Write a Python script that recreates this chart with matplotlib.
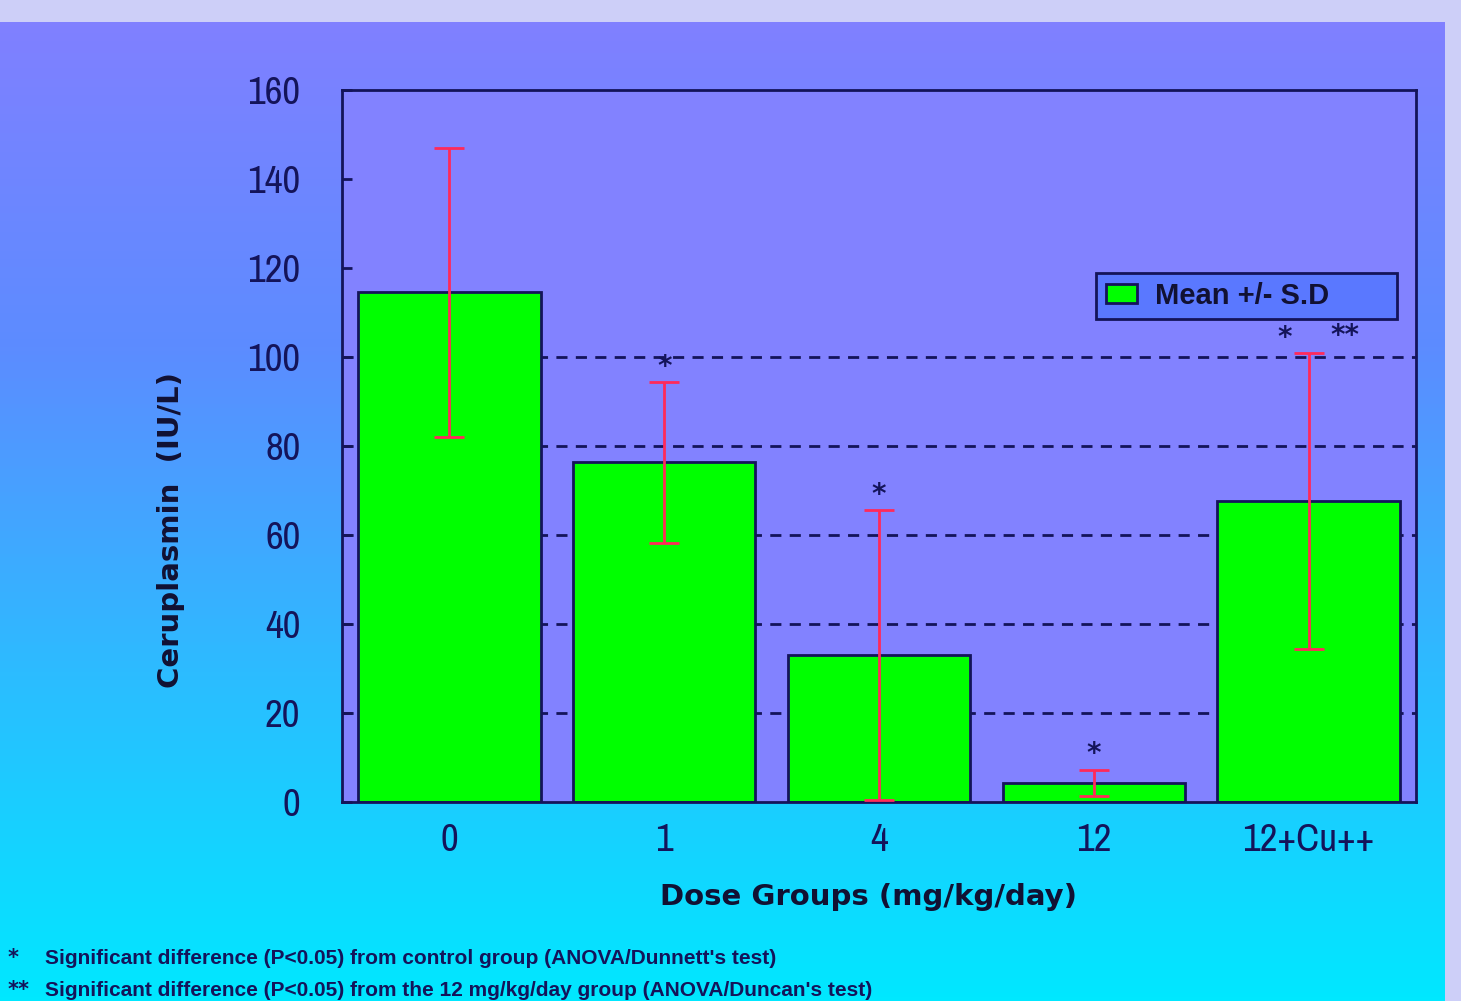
import numpy as np
import matplotlib
matplotlib.use("Agg")
import matplotlib.pyplot as plt
from matplotlib import font_manager as fm
from matplotlib.colors import LinearSegmentedColormap
from matplotlib.patches import Rectangle

categories = ["0", "1", "4", "12", "12+Cu++"]
means = [114.5, 76.3, 33.0, 4.3, 67.6]
sds = [32.5, 18.0, 32.6, 3.0, 33.2]
stars = ["*", "*", "*", "*"]
star_groups = [1, 2, 3, 4]
yticks = [0, 20, 40, 60, 80, 100, 120, 140, 160]
grid_levels = [20, 40, 60, 80, 100]
footnotes = [
    ("*", "Significant difference (P<0.05) from control group (ANOVA/Dunnett's test)"),
    ("**", "Significant difference (P<0.05) from the 12 mg/kg/day group (ANOVA/Duncan's test)"),
]

names = {f.name for f in fm.fontManager.ttflist}
narrow = "Archivo Narrow" if "Archivo Narrow" in names else "Liberation Sans"

navy = "#14145a"
W, H = 14.61, 10.01
fig = plt.figure(figsize=(W, H), dpi=100)
fig.patch.set_facecolor("#cdcff8")

# background gradient
bg = fig.add_axes([0, 0, 1445 / 1461, 1 - 22 / 1001], zorder=-10)
cmap = LinearSegmentedColormap.from_list("bg", ["#8080ff", "#5c8cff", "#2cbcff", "#00e8ff"])
grad = np.linspace(0, 1, 256).reshape(-1, 1)
bg.imshow(grad, aspect="auto", cmap=cmap, extent=[0, 1, 0, 1], origin="upper")
bg.set_axis_off()

ax = fig.add_axes([342 / 1461, 1 - 802 / 1001, (1416 - 342) / 1461, (802 - 90) / 1001])
ax.set_facecolor("#8282ff")
x = np.arange(len(categories))

for g in grid_levels:
    ax.axhline(g, color=navy, lw=2, ls=(0, (4, 3)), zorder=1)

bars = ax.bar(x, means, width=0.85, color="#00ff00", edgecolor=navy, linewidth=2,
              zorder=2, label="Mean +/- S.D")
ax.errorbar(x, means, yerr=sds, fmt="none", ecolor="#ff2a5a", elinewidth=2,
            capsize=11, capthick=2, zorder=3)

for gi, st in zip(star_groups, stars):
    dx = -0.11 if gi == len(categories) - 1 else 0.0
    ax.text(x[gi] + dx, means[gi] + sds[gi] + 3.5, st, ha="center", va="center",
            fontsize=20, fontweight="bold", color=navy, zorder=6)
ax.text(x[-1] + 0.17, means[-1] + sds[-1] + 4.0, "**", ha="center", va="center",
        fontsize=20, fontweight="bold", color=navy, zorder=6)

ax.set_xlim(-0.5, len(categories) - 0.5)
ax.set_ylim(0, 160)
ax.set_yticks(yticks)
ax.set_yticklabels([str(t) for t in yticks], fontsize=28, family=narrow, color=navy)
ax.set_xticks(x)
ax.set_xticklabels(categories, fontsize=28, family=narrow, color=navy)
ax.tick_params(axis="y", direction="in", length=7, width=2, color=navy, pad=30)
ax.tick_params(axis="x", length=0, pad=15)
for sp in ax.spines.values():
    sp.set_color(navy)
    sp.set_linewidth(2)

ax.set_ylabel("Ceruplasmin  (IU/L)", fontsize=21, fontweight="bold", color="#111133",
              family="DejaVu Sans")
ax.yaxis.set_label_coords(-0.146, 0.382)
ax.set_xlabel("Dose Groups (mg/kg/day)", fontsize=21, fontweight="bold", color="#111133",
              family="DejaVu Sans")
ax.xaxis.set_label_coords(0.490, -0.114)

# legend box
ax.add_patch(Rectangle(((1096 - 342) / 1074, (802 - 319) / 712), (1397 - 1096) / 1074,
                       46 / 712, transform=ax.transAxes, facecolor="#5a78ff",
                       edgecolor=navy, linewidth=2, zorder=5))
leg = ax.legend(loc="center left", bbox_to_anchor=((1106 - 342) / 1074, (802 - 296) / 712),
                borderaxespad=0, borderpad=0, frameon=False,
                prop={"family": "Liberation Sans", "weight": "bold", "size": 21},
                handlelength=1.07, handleheight=0.62, handletextpad=0.62)
leg.set_zorder(7)
for t in leg.get_texts():
    t.set_color("#111133")

for i, (mark, txt) in enumerate(footnotes):
    yy = 1 - (958 + 32 * i) / 1001
    fig.text(8 / 1461, yy, mark, fontsize=15, fontweight="bold", color=navy,
             family="DejaVu Sans", va="center")
    fig.text(45 / 1461, yy, txt, fontsize=15, fontweight="bold", color=navy,
             family="Liberation Sans", va="center")

fig.savefig("out.png", dpi=100, facecolor=fig.get_facecolor())
